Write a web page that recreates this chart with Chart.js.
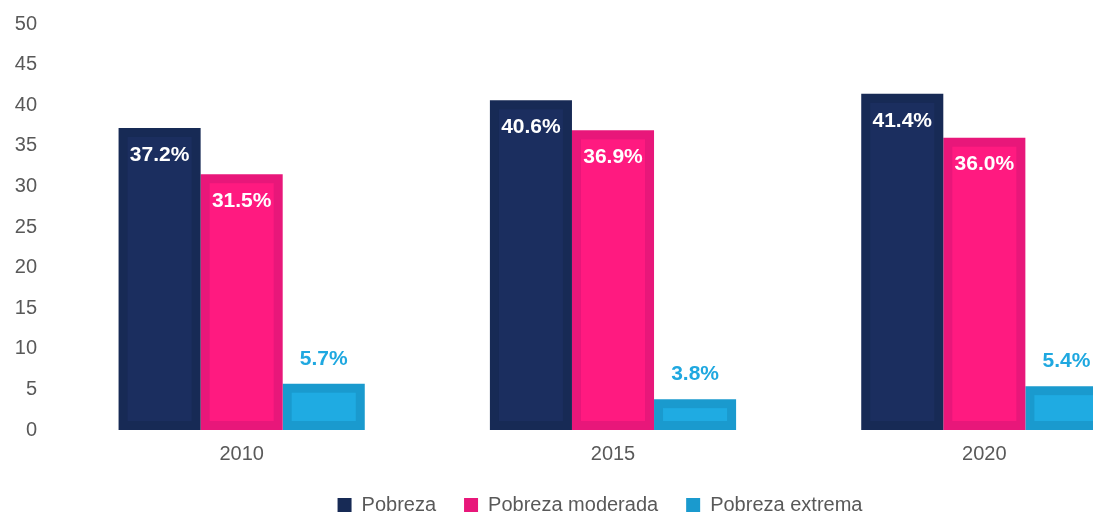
<!DOCTYPE html>
<html>
<head>
<meta charset="utf-8">
<script src="https://cdn.jsdelivr.net/npm/chart.js@4/dist/chart.umd.min.js"></script>
<style>
  html, body { margin: 0; padding: 0; overflow: hidden; background: #fff; }
  #wrap { width: 1204px; height: 514px; }
</style>
</head>
<body>
<div id="wrap"><canvas id="c" width="1204" height="514"></canvas></div>
<script>
const categories = ['2010', '2015', '2020'];
const pobreza = [37.2, 40.6, 41.4];
const pobrezaModerada = [31.5, 36.9, 36.0];
const pobrezaExtrema = [5.7, 3.8, 5.4];
const seriesNames = ['Pobreza', 'Pobreza moderada', 'Pobreza extrema'];

const FONT = "'Liberation Sans', Arial, sans-serif";
const GREY = '#595959';
const outerColors = ['#172a55', '#e8177a', '#1a9ace'];
const innerColors = ['#1b2e5f', '#ff1a80', '#1fabe2'];
const INSET = 9;

const barDecor = {
  id: 'barDecor',
  afterDatasetsDraw(chart) {
    const ctx = chart.ctx;
    ctx.save();
    chart.data.datasets.forEach((ds, di) => {
      const meta = chart.getDatasetMeta(di);
      meta.data.forEach(bar => {
        const p = bar.getProps(['x', 'y', 'base', 'width'], true);
        const left = p.x - p.width / 2 + INSET;
        const w = p.width - 2 * INSET;
        const top = p.y + INSET;
        const h = p.base - p.y - 2 * INSET;
        if (w > 0 && h > 0) {
          ctx.fillStyle = innerColors[di];
          ctx.fillRect(left, top, w, h);
        }
      });
    });
    ctx.font = 'bold 21px ' + FONT;
    ctx.textAlign = 'center';
    ctx.textBaseline = 'middle';
    chart.data.datasets.forEach((ds, di) => {
      const meta = chart.getDatasetMeta(di);
      meta.data.forEach((bar, i) => {
        const txt = ds.data[i].toFixed(1) + '%';
        if (di < 2) {
          ctx.fillStyle = '#ffffff';
          ctx.fillText(txt, bar.x, bar.y + 27);
        } else {
          ctx.fillStyle = '#1fa8e0';
          ctx.fillText(txt, bar.x, bar.y - 25);
        }
      });
    });
    ctx.restore();
  }
};

const legendShift = {
  id: 'legendShift',
  afterLayout(chart) {
    const lg = chart.legend;
    if (!lg) return;
    const h = lg.bottom - lg.top;
    const pad = lg.options.labels.padding;
    lg.top = 505 - pad - 10;
    lg.bottom = lg.top + h;
    lg.left += 15;
    lg.right += 15;
  }
};

new Chart(document.getElementById('c'), {
  type: 'bar',
  data: {
    labels: categories,
    datasets: [
      { label: seriesNames[0], data: pobreza, backgroundColor: outerColors[0] },
      { label: seriesNames[1], data: pobrezaModerada, backgroundColor: outerColors[1] },
      { label: seriesNames[2], data: pobrezaExtrema, backgroundColor: outerColors[2] }
    ]
  },
  options: {
    responsive: false,
    animation: false,
    devicePixelRatio: 1,
    layout: { padding: { top: 24, right: 34, bottom: -8, left: 0 } },
    datasets: {
      bar: {
        categoryPercentage: 0.663,
        barPercentage: 1.0,
        borderWidth: 0
      }
    },
    scales: {
      x: {
        grid: { display: false, drawTicks: false },
        border: { display: false },
        ticks: { color: GREY, font: { family: FONT, size: 20 }, padding: 12, maxRotation: 0 },
        afterFit: s => { s.height = 34; }
      },
      y: {
        min: 0, max: 50,
        grid: { display: false, drawTicks: false },
        border: { display: false },
        ticks: { stepSize: 5, color: GREY, font: { family: FONT, size: 20 }, padding: 19 },
        afterFit: s => { s.width = 56; s.paddingTop = 0; s.paddingBottom = 0; }
      }
    },
    plugins: {
      tooltip: { enabled: false },
      legend: {
        position: 'bottom',
        labels: {
          color: GREY,
          font: { family: FONT, size: 20 },
          boxWidth: 14,
          boxHeight: 14,
          padding: 28
        }
      }
    }
  },
  plugins: [barDecor, legendShift]
});
</script>
</body>
</html>
